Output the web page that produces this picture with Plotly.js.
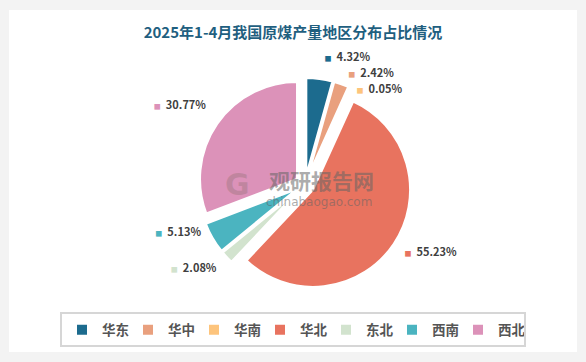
<!DOCTYPE html>
<html>
<head>
<meta charset="utf-8">
<script src="https://cdn.plot.ly/plotly-3.0.1.min.js"></script>
<style>
  html, body { margin: 0; padding: 0; background: #f3f3f3; }
  #chart { width: 586px; height: 362px; }
</style>
</head>
<body>
<div id="chart"></div>
<script>
const regions = ['华东', '华中', '华南', '华北', '东北', '西南', '西北'];
const shares = [4.32, 2.42, 0.05, 55.23, 2.08, 5.13, 30.77];
const colors = ['#1c6b8e', '#e9a07e', '#fdc47c', '#e8735f', '#d2e3ce', '#4bb4c0', '#dc92b9'];
const chartTitle = '2025年1-4月我国原煤产量地区分布占比情况';

const FONT = '"Noto Sans CJK SC", "Noto Sans", sans-serif';
const LABEL_COLOR = '#404040';

const labelTemplates = colors.map(c =>
  '<span style="color:' + c + ';fill-opacity:1;font-size:7px">■</span>\u00a0\u00a0' +
  '<span style="color:' + LABEL_COLOR + ';fill-opacity:1">%{value:.2f}%</span>'
);

// which invisible label ring carries each slice's outside label
const labelRingOf = ['top', 'top', 'top', 'mid', 'mid', 'left', 'left'];
const ringDomains = {
  top:  { x: [0.3242, 0.7167], y: [0.1312, 0.7666] },
  mid:  { x: [0.3242, 0.7167], y: [0.1727, 0.808] },
  left: { x: [0.3242, 0.7167], y: [0.2086, 0.8439] }
};

function labelRing(name) {
  return {
    type: 'pie',
    labels: regions,
    values: shares,
    sort: false,
    direction: 'clockwise',
    rotation: 0,
    domain: ringDomains[name],
    marker: { colors: regions.map(() => 'rgba(0,0,0,0)'), line: { width: 0 } },
    textposition: labelRingOf.map(r => r === name ? 'outside' : 'none'),
    texttemplate: labelTemplates,
    textfont: { family: FONT, size: 11, color: 'rgba(255,255,255,0)', weight: 'bold' },
    hoverinfo: 'skip',
    showlegend: false
  };
}

const mainPie = {
  type: 'pie',
  labels: regions,
  values: shares,
  sort: false,
  direction: 'clockwise',
  rotation: 0,
  pull: 0.1,
  domain: { x: [0.3384, 0.7026], y: [0.1956, 0.7851] },
  marker: { colors: colors, line: { color: '#ffffff', width: 2 } },
  textinfo: 'none',
  hoverinfo: 'label+percent'
};

const layout = {
  width: 586,
  height: 362,
  margin: { l: 0, r: 0, t: 0, b: 0 },
  paper_bgcolor: '#f3f3f3',
  title: {
    text: '<b>' + chartTitle + '</b>',
    x: 0.5, xanchor: 'center',
    y: 0.909, yanchor: 'middle',
    font: { family: FONT, size: 15, color: '#1f5f7f' }
  },
  showlegend: true,
  legend: {
    orientation: 'h',
    x: 0.5, xanchor: 'center',
    y: 0.0884, yanchor: 'middle',
    bgcolor: 'rgba(255,255,255,0)',
    bordercolor: '#d6d6d6',
    borderwidth: 2,
    entrywidth: 21,
    entrywidthmode: 'pixels',
    font: { family: FONT, size: 13.5, color: '#555555', weight: 'bold' },
    traceorder: 'normal'
  },
  shapes: [{
    type: 'rect', xref: 'paper', yref: 'paper', layer: 'below',
    x0: 0.0154, x1: 0.9846, y0: 0.0276, y1: 0.9724,
    fillcolor: '#ffffff', line: { width: 0 }
  }],
  annotations: [
    {
      text: '<b>观研报告网</b>', xref: 'paper', yref: 'paper',
      x: 0.548, y: 0.502, xanchor: 'center', yanchor: 'middle', showarrow: false,
      font: { family: FONT, size: 21, color: 'rgba(100,100,100,0.55)' }
    },
    {
      text: 'chinabaogao.com', xref: 'paper', yref: 'paper',
      x: 0.545, y: 0.443, xanchor: 'center', yanchor: 'middle', showarrow: false,
      font: { family: 'DejaVu Sans, sans-serif', size: 12, color: 'rgba(100,100,100,0.55)' }
    },
    {
      text: '<b>G</b>', xref: 'paper', yref: 'paper',
      x: 0.406, y: 0.49, xanchor: 'center', yanchor: 'middle', showarrow: false,
      font: { family: 'DejaVu Sans, sans-serif', size: 30, color: 'rgba(140,110,110,0.35)' }
    }
  ]
};

const traces = [labelRing('mid'), labelRing('top'), labelRing('left'), mainPie];
Plotly.newPlot('chart', traces, layout, { displayModeBar: false, staticPlot: true });
</script>
</body>
</html>
